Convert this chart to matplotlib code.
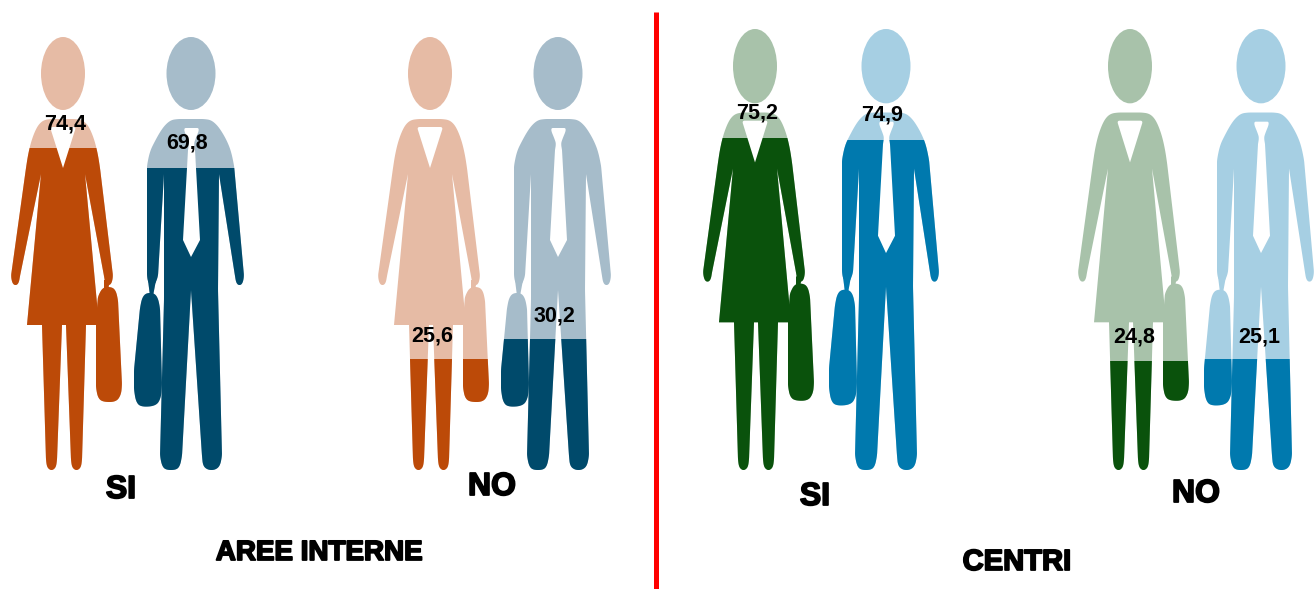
import matplotlib
matplotlib.use("Agg")
import matplotlib.pyplot as plt
import matplotlib.patheffects as pe
from matplotlib.patches import Polygon, Ellipse, Rectangle

# values
groups = ["AREE INTERNE", "CENTRI"]
answers = ["SI", "NO"]
women_aree = [74.4, 25.6]
men_aree = [69.8, 30.2]
women_centri = [75.2, 24.8]
men_centri = [74.9, 25.1]

# colours (dark, pale)
col_woman_aree = ("#BC4A08", "#E6BBA5")
col_man_aree = ("#004A6B", "#A6BCCA")
col_woman_centri = ("#0A520C", "#A8C2AA")
col_man_centri = ("#0079AE", "#A6CFE3")

# silhouettes, drawn around a centre line, top y=37 and bottom y=470. 3rd item = sharp corner
woman_body = [(-12, 119), (12, 119), (19, 120), (24, 124), (28, 131), (32, 142), (35, 155), (37, 168), (50, 276), (49, 282),
              (47, 285), (44, 285), (42, 282), (41, 276),
              (22, 174, 1), (36, 325, 1), (23, 325, 1), (19, 460), (18, 467), (15, 470), (12, 470), (9, 467), (8, 460), (3, 325, 1),
              (-1, 325, 1), (-6, 460), (-7, 467), (-10, 470), (-13, 470), (-16, 467), (-17, 460), (-21, 325, 1), (-36, 325, 1),
              (-22, 174, 1), (-43, 276), (-44, 282), (-46, 285), (-49, 285), (-51, 282), (-52, 276),
              (-37, 168), (-35, 155), (-32, 142), (-28, 131), (-24, 124), (-19, 120)]
woman_bag = [(40, 287), (49, 287), (53, 291), (55, 300), (59, 385), (58, 395), (53, 402), (40, 402), (35, 398), (33, 388),
             (33, 320), (35, 296)]
woman_handle = [(41, 280, 1), (47, 280, 1), (45, 290, 1), (41, 290, 1)]
woman_neck = [(-13, 127), (13, 127), (0, 168, 1)]

man_body = [(-13, 119), (13, 119), (20, 120), (26, 125), (31, 132), (36, 141), (40, 151), (43, 165), (53, 276), (52, 282),
            (50, 285), (47, 285), (45, 282), (44, 276),
            (28, 174, 1), (27, 290), (31, 456), (29, 466), (24, 470), (17, 470), (12, 466), (11, 456), (0, 290, 1),
            (-9, 456), (-11, 466), (-15, 470), (-25, 470), (-29, 466), (-31, 456),
            (-27, 300), (-27, 174, 1), (-33, 276), (-35, 282), (-37, 285), (-40, 285), (-43, 282), (-44, 276),
            (-44, 165), (-41, 151), (-36, 141), (-31, 132), (-26, 125), (-20, 120)]
man_bag = [(-45, 293), (-37, 293), (-33, 298), (-31, 308), (-29, 385), (-30, 398), (-35, 406), (-50, 407), (-55, 402),
           (-57, 390), (-57, 370), (-51, 308), (-49, 298)]
man_handle = [(-43, 280, 1), (-35, 280, 1), (-38, 296, 1), (-41, 296, 1)]
man_tie = [(-8, 128), (9, 128), (4, 140), (3, 144), (4, 150, 1), (9, 240, 1), (0, 257, 1), (-8, 240, 1),
           (-3, 150, 1), (-2, 144), (-3, 140)]


def smooth(pts, rounds=3):
    # corner cutting, a doubled point stays sharp. long edges get extra points so they stay straight
    raw = []
    for p in pts:
        raw.append((p[0], p[1]))
        if len(p) == 3:
            raw.append((p[0], p[1]))
    out = []
    for i in range(len(raw)):
        a = raw[i]
        b = raw[(i + 1) % len(raw)]
        out.append(a)
        d = ((a[0] - b[0]) ** 2 + (a[1] - b[1]) ** 2) ** 0.5
        if d > 16:
            t = 6 / d
            out.append((a[0] + (b[0] - a[0]) * t, a[1] + (b[1] - a[1]) * t))
            out.append((b[0] - (b[0] - a[0]) * t, b[1] - (b[1] - a[1]) * t))
    for _ in range(rounds):
        new = []
        for i in range(len(out)):
            a = out[i]
            b = out[(i + 1) % len(out)]
            new.append((0.75 * a[0] + 0.25 * b[0], 0.75 * a[1] + 0.25 * b[1]))
            new.append((0.25 * a[0] + 0.75 * b[0], 0.25 * a[1] + 0.75 * b[1]))
        out = new
    return out


def place(pts, cx, top, height):
    k = height / 433
    return [(cx + x, top + (y - 37) * k) for x, y in smooth(pts)]


def draw_person(ax, kind, cx, top, value, colours):
    bottom = 470
    height = bottom - top
    level = bottom - value / 100 * height
    if kind == "woman":
        head_w = 44
        shapes = [woman_body, woman_bag, woman_handle]
        hole = woman_neck
    else:
        head_w = 49
        shapes = [man_body, man_bag, man_handle]
        hole = man_tie
    k = height / 433
    head_h = 73 * k
    for colour, clip in [(colours[1], False), (colours[0], True)]:
        parts = [Ellipse((cx, top + head_h / 2), head_w, head_h)]
        parts += [Polygon(place(s, cx, top, height), closed=True) for s in shapes]
        for p in parts:
            p.set_facecolor(colour)
            p.set_edgecolor("none")
            p.set_zorder(3 if clip else 2)
            ax.add_patch(p)
            if clip:
                p.set_clip_path(Rectangle((cx - 90, level), 180, bottom - level + 5, transform=ax.transData))
    ax.add_patch(Polygon(place(hole, cx, top, height), closed=True, facecolor="white", edgecolor="none", zorder=4))


def value_label(ax, x, y, value):
    s = f"{value:.1f}".replace(".", ",")
    ax.text(x, y, s, ha="center", va="center", fontsize=15.5, fontweight="bold", color="black", zorder=6,
            family="Liberation Sans")


def big_label(ax, x, y, s, size):
    ax.text(x, y, s, ha="center", va="center", fontsize=size, fontweight="bold", color="black", zorder=6,
            family="Liberation Sans", path_effects=[pe.withStroke(linewidth=1.3, foreground="black")])


fig = plt.figure(figsize=(13.14, 5.89), dpi=100)
ax = fig.add_axes([0, 0, 1, 1])
ax.set_xlim(0, 1314)
ax.set_ylim(589, 0)
ax.axis("off")

# left panel
draw_person(ax, "woman", 63, 37, women_aree[0], col_woman_aree)
draw_person(ax, "man", 191, 37, men_aree[0], col_man_aree)
draw_person(ax, "woman", 430, 37, women_aree[1], col_woman_aree)
draw_person(ax, "man", 558, 37, men_aree[1], col_man_aree)

# right panel
draw_person(ax, "woman", 755, 29, women_centri[0], col_woman_centri)
draw_person(ax, "man", 886, 29, men_centri[0], col_man_centri)
draw_person(ax, "woman", 1130, 29, women_centri[1], col_woman_centri)
draw_person(ax, "man", 1261, 29, men_centri[1], col_man_centri)

value_label(ax, 65, 124, women_aree[0])
value_label(ax, 187, 143, men_aree[0])
value_label(ax, 432, 336, women_aree[1])
value_label(ax, 554, 316, men_aree[1])
value_label(ax, 757, 113, women_centri[0])
value_label(ax, 882, 115, men_centri[0])
value_label(ax, 1134, 337, women_centri[1])
value_label(ax, 1259, 337, men_centri[1])

big_label(ax, 121, 490, answers[0], 23)
big_label(ax, 492, 487, answers[1], 23)
big_label(ax, 815, 497, answers[0], 23)
big_label(ax, 1196, 494, answers[1], 23)
big_label(ax, 319, 553, groups[0], 20)
big_label(ax, 1017, 562, groups[1], 21)

# red divider
ax.plot([655.5, 655.5], [12, 589], color="#FF0000", lw=3.6, solid_capstyle="butt", zorder=5)

fig.savefig("out.png", dpi=100)
